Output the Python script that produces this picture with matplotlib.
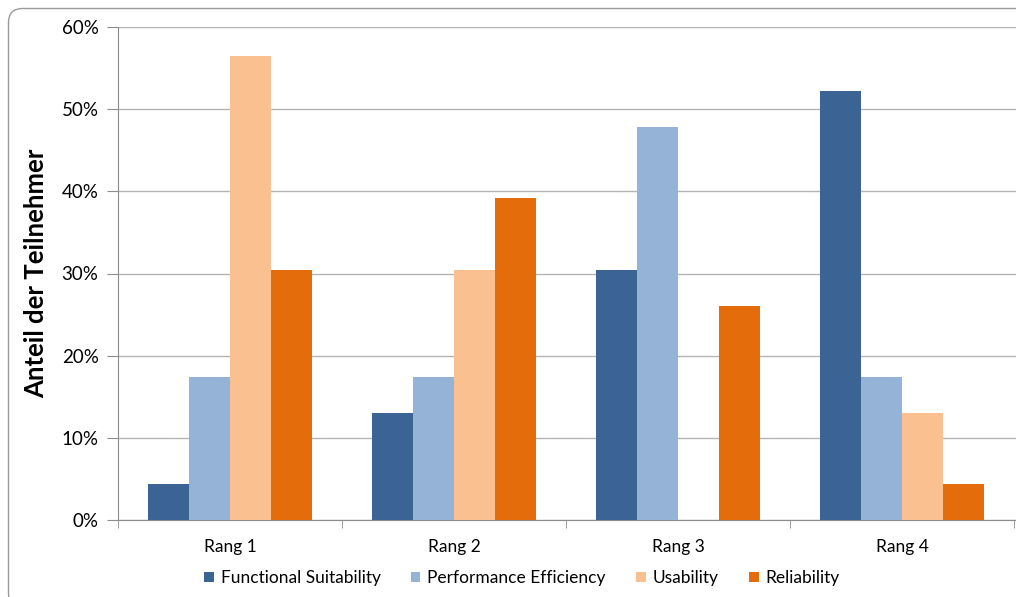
import numpy as np
import matplotlib
matplotlib.use("Agg")
import matplotlib.pyplot as plt
from matplotlib.patches import PathPatch
from matplotlib.path import Path
from matplotlib.ticker import PercentFormatter

# Share of participants per rank (percent)
ranks = ["Rang 1", "Rang 2", "Rang 3", "Rang 4"]
series_names = ["Functional Suitability", "Performance Efficiency", "Usability", "Reliability"]
functional = [4.35, 13.04, 30.43, 52.17]
performance = [17.39, 17.39, 47.83, 17.39]
usability = [56.52, 30.43, 0.0, 13.04]
reliability = [30.43, 39.13, 26.09, 4.35]

colors = ["#3b6495", "#95b3d7", "#fac090", "#e46c0a"]

plt.rcParams['font.family'] = ['Lato', 'DejaVu Sans']

fig = plt.figure(figsize=(10.16, 5.97), dpi=100)
fig.patch.set_facecolor("white")

# chart border (pixel units): rounded frame that runs off the right and bottom edges
left, top, bottom, r = 8.5, 588.5, -10, 14
verts = [(1200, top), (left + r, top), (left, top), (left, top - r),
         (left, bottom + r), (left, bottom), (left + r, bottom), (1200, bottom)]
codes = [Path.MOVETO, Path.LINETO, Path.CURVE3, Path.CURVE3,
         Path.LINETO, Path.CURVE3, Path.CURVE3, Path.LINETO]
fig.patches.append(PathPatch(Path(verts, codes), transform=None, facecolor="none",
                             edgecolor="#9a9a9a", linewidth=1.0, zorder=0))

ax = fig.add_axes([118 / 1016, 1 - 520 / 597, 898 / 1016, 493 / 597])

x = np.arange(len(ranks))
width = 0.183
all_series = [functional, performance, usability, reliability]
for i, (name, vals) in enumerate(zip(series_names, all_series)):
    ax.bar(x + (i - 1.5) * width, vals, width, color=colors[i], label=name, zorder=3)

ax.set_xlim(-0.5, len(ranks) - 0.5 + 2 / 224)
ax.set_ylim(0, 60)
ax.set_yticks(range(0, 61, 10))
ax.yaxis.set_major_formatter(PercentFormatter(decimals=0))
ax.set_xticks(x)
ax.set_xticklabels(ranks, fontsize=12.5)
ax.set_xticks(np.arange(-0.5, len(ranks)), minor=True)
ax.tick_params(axis="x", which="major", length=0, pad=14)
ax.tick_params(axis="x", which="minor", length=6, color="#8c8c8c")
ax.tick_params(axis="y", length=8, color="#8c8c8c", labelsize=13.5, pad=6)

ax.grid(axis="y", color="#b4b4b4", linewidth=1.0, zorder=0)
for side in ["top", "right"]:
    ax.spines[side].set_visible(False)
for side in ["left", "bottom"]:
    ax.spines[side].set_color("#8c8c8c")

ax.set_ylabel("Anteil der Teilnehmer", fontsize=18.5, fontweight="bold", labelpad=10)

fig.legend(loc="center", bbox_to_anchor=(522 / 1016, 1 - 578 / 597), ncol=4,
           frameon=False, fontsize=12.5, handlelength=0.55, handleheight=0.55,
           handletextpad=0.4, columnspacing=1.75)

fig.savefig("out.png", dpi=100)
